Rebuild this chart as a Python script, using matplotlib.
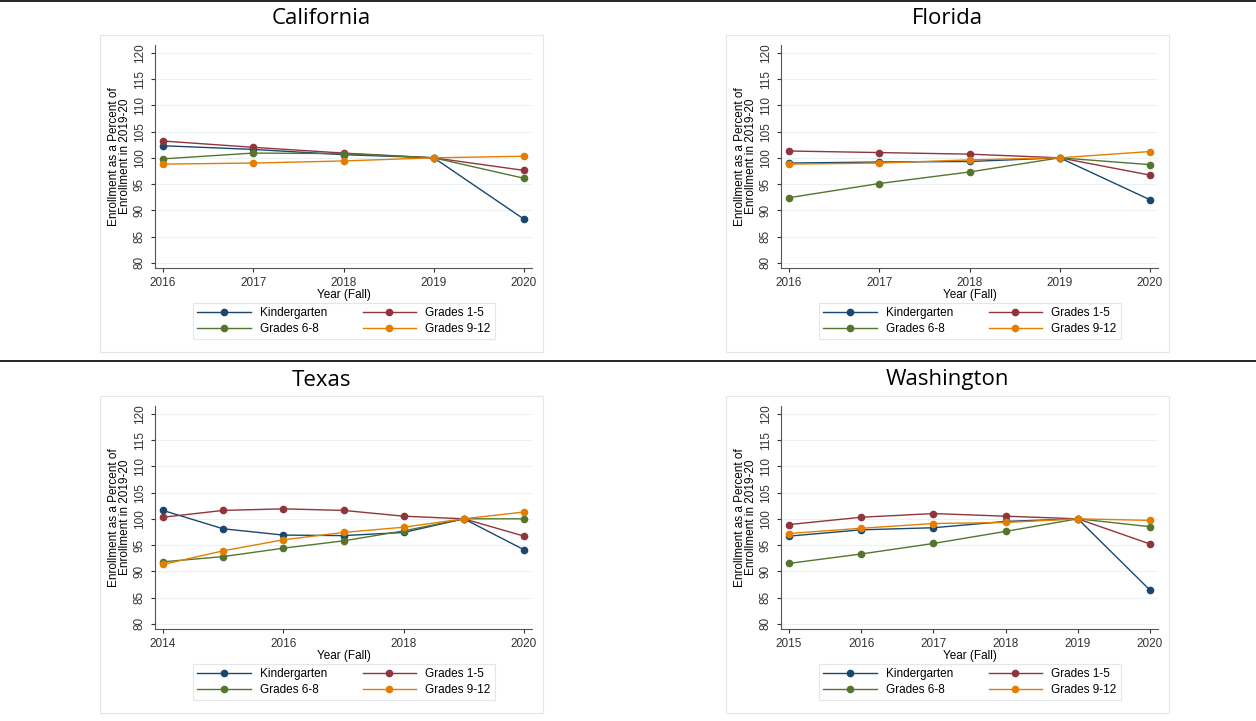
import matplotlib
matplotlib.use("Agg")
import matplotlib.pyplot as plt
from matplotlib.patches import Rectangle
from matplotlib.lines import Line2D

plt.rcParams['font.family'] = ['Liberation Sans', 'DejaVu Sans']

series = ["Kindergarten", "Grades 1-5", "Grades 6-8", "Grades 9-12"]
colors = ["#1a476f", "#90353b", "#55752f", "#e37e00"]

ca_years = [2016, 2017, 2018, 2019, 2020]
ca_k = [102.3, 101.6, 100.6, 100, 88.3]
ca_g15 = [103.2, 102.0, 100.9, 100, 97.6]
ca_g68 = [99.8, 100.9, 100.8, 100, 96.1]
ca_g912 = [98.8, 99.0, 99.4, 100, 100.3]

fl_years = [2016, 2017, 2018, 2019, 2020]
fl_k = [99.0, 99.2, 99.3, 100, 92.0]
fl_g15 = [101.3, 101.0, 100.7, 100, 96.7]
fl_g68 = [92.4, 95.1, 97.3, 100, 98.7]
fl_g912 = [98.8, 99.0, 99.6, 100, 101.2]

tx_years = [2014, 2015, 2016, 2017, 2018, 2019, 2020]
tx_k = [101.6, 98.1, 96.9, 96.8, 97.4, 100, 94.1]
tx_g15 = [100.3, 101.6, 101.9, 101.6, 100.5, 100, 96.7]
tx_g68 = [91.8, 92.8, 94.4, 95.8, 97.7, 100, 100.0]
tx_g912 = [91.3, 93.9, 96.0, 97.4, 98.4, 100, 101.3]

wa_years = [2015, 2016, 2017, 2018, 2019, 2020]
wa_k = [96.7, 97.9, 98.3, 99.5, 100, 86.4]
wa_g15 = [98.9, 100.3, 101.0, 100.5, 100, 95.2]
wa_g68 = [91.5, 93.3, 95.3, 97.6, 100, 98.5]
wa_g912 = [97.2, 98.2, 99.1, 99.3, 100, 99.7]

panels = [
    ("California", ca_years, [ca_k, ca_g15, ca_g68, ca_g912], ca_years, 0, 0),
    ("Florida", fl_years, [fl_k, fl_g15, fl_g68, fl_g912], fl_years, 1, 0),
    ("Texas", tx_years, [tx_k, tx_g15, tx_g68, tx_g912], [2014, 2016, 2018, 2020], 0, 1),
    ("Washington", wa_years, [wa_k, wa_g15, wa_g68, wa_g912], wa_years, 1, 1),
]

W, H = 1256, 721
fig = plt.figure(figsize=(W / 100, H / 100), dpi=100)
fig.patch.set_facecolor("white")

def fx(x): return x / W
def fy(y): return 1 - y / H

for yline in [1, 361]:
    fig.add_artist(Line2D([0, 1], [fy(yline), fy(yline)], color="black", lw=1.2))

for title, years, vals, ticks, col, row in panels:
    ox = 0 if col == 0 else 626
    oy = 0 if row == 0 else 361
    fig.add_artist(Rectangle((fx(100 + ox), fy(352 + oy)), (443) / W, (317) / H,
                             fill=False, edgecolor="#e6e6e6", lw=0.8))
    fig.text(fx(321 + ox), fy(19 + oy), title, ha="center", va="center", fontsize=16,
             family=["Open Sans", "DejaVu Sans"])
    ax = fig.add_axes([fx(155 + ox), fy(268 + oy), (532 - 155) / W, (268 - 45) / H])
    hs = []
    for v, c, n in zip(vals, colors, series):
        h, = ax.plot(years, v, color=c, marker="o", ms=4.5, lw=1, label=n)
        hs.append(h)
    pad = (years[-1] - years[0]) * 0.022
    ax.set_xlim(years[0] - pad, years[-1] + pad)
    ax.set_ylim(79, 121.5)
    ax.set_yticks(range(80, 121, 5))
    ax.set_xticks(ticks)
    ax.grid(axis="y", color="#eaf2f3", lw=0.8)
    ax.set_axisbelow(True)
    for s in ["top", "right"]:
        ax.spines[s].set_visible(False)
    for s in ["left", "bottom"]:
        ax.spines[s].set_color("#555555")
        ax.spines[s].set_linewidth(0.8)
    ax.tick_params(axis="y", labelrotation=90, labelsize=8.5, colors="#333333", length=3)
    ax.tick_params(axis="x", labelsize=8.5, colors="#333333", length=3)
    for lab in ax.get_yticklabels():
        lab.set_va("center")
    ax.set_xlabel("Year (Fall)", fontsize=8.5, labelpad=0)
    ax.set_ylabel("Enrollment as a Percent of\nEnrollment in 2019-20", fontsize=8.5, labelpad=2,
                  linespacing=0.9)
    order = [0, 2, 1, 3]
    leg = fig.legend([hs[i] for i in order], [series[i] for i in order], ncol=2, fontsize=8.5,
                     loc="center", bbox_to_anchor=(fx(344 + ox), fy(321 + oy)),
                     frameon=True, fancybox=False, handlelength=4.5, columnspacing=3,
                     labelspacing=0.3, borderpad=0.4)
    leg.get_frame().set_edgecolor("#e0e0e0")
    leg.get_frame().set_linewidth(0.8)

fig.savefig("out.png", dpi=100)
